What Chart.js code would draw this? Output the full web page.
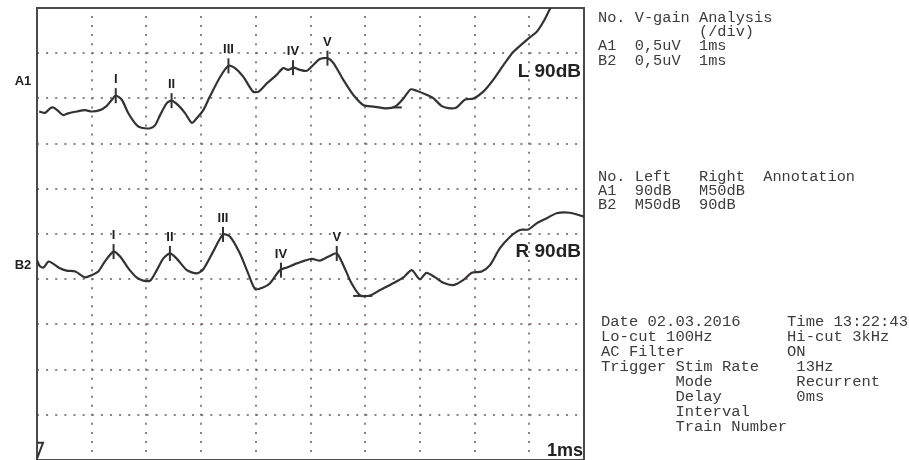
<!DOCTYPE html>
<html>
<head>
<meta charset="utf-8">
<script src="https://cdn.jsdelivr.net/npm/chart.js@4.4.1/dist/chart.umd.min.js"></script>
<style>
    body { margin: 0; background: #fff; }
    #wrap { position: relative; width: 909px; height: 460px; overflow: hidden; }
    #abrChart { position: absolute; left: 0; top: 0; }
    .info {
        position: absolute;
        margin: 0;
        font-family: "Liberation Mono", "DejaVu Sans Mono", monospace;
        color: #3c3c3c;
        white-space: pre;
    }
    #gainBlock { left: 598px; top: 11px; font-size: 15.3px; line-height: 14.2px; }
    #levelBlock { left: 598px; top: 170px; font-size: 15.3px; line-height: 14px; }
    #setupBlock { left: 601px; top: 315px; font-size: 15.5px; line-height: 14.93px; }
</style>
</head>
<body>
<div id="wrap">
    <canvas id="abrChart" width="909" height="460"></canvas>
<pre class="info" id="gainBlock">No. V-gain Analysis
           (/div)
A1  0,5uV  1ms
B2  0,5uV  1ms</pre>
<pre class="info" id="levelBlock">No. Left   Right  Annotation
A1  90dB   M50dB
B2  M50dB  90dB</pre>
<pre class="info" id="setupBlock">Date 02.03.2016     Time 13:22:43
Lo-cut 100Hz        Hi-cut 3kHz
AC Filter           ON
Trigger Stim Rate    13Hz
        Mode         Recurrent
        Delay        0ms
        Interval
        Train Number</pre>
</div>
<script>
// time in ms (1 ms / div), amplitude in divisions (0.5 uV / div)
const a1Time = [0.04, 0.15, 0.24, 0.30, 0.38, 0.48, 0.57, 0.73, 0.88, 1.00, 1.15, 1.27, 1.37, 1.44, 1.55, 1.67, 1.82, 1.91, 2.07, 2.16, 2.25, 2.37, 2.46, 2.58, 2.71, 2.83, 2.92, 3.04, 3.16, 3.35, 3.50, 3.62, 3.77, 3.95, 4.05, 4.20, 4.38, 4.50, 4.59, 4.69, 4.81, 4.93, 5.05, 5.17, 5.31, 5.42, 5.60, 5.78, 5.97, 6.15, 6.39, 6.55, 6.70, 6.83, 6.94, 7.12, 7.25, 7.40, 7.55, 7.67, 7.82, 7.98, 8.16, 8.34, 8.53, 8.71, 8.95, 9.14, 9.26, 9.37, 9.39];
const a1Amp = [7.71, 7.68, 7.78, 7.80, 7.73, 7.63, 7.67, 7.71, 7.74, 7.71, 7.74, 7.83, 7.97, 8.06, 7.97, 7.67, 7.41, 7.35, 7.34, 7.41, 7.63, 7.89, 7.95, 7.85, 7.67, 7.46, 7.56, 7.74, 8.04, 8.48, 8.72, 8.67, 8.48, 8.15, 8.15, 8.33, 8.52, 8.67, 8.63, 8.68, 8.63, 8.61, 8.74, 8.87, 8.89, 8.78, 8.41, 8.08, 7.85, 7.82, 7.78, 7.82, 8.00, 8.20, 8.17, 8.08, 8.00, 7.83, 7.78, 7.80, 7.97, 8.00, 8.15, 8.41, 8.74, 9.03, 9.29, 9.48, 9.70, 9.96, 10.0];

const b2Time = [0.00, 0.05, 0.12, 0.21, 0.30, 0.42, 0.54, 0.70, 0.88, 1.00, 1.12, 1.24, 1.40, 1.52, 1.67, 1.82, 1.94, 2.07, 2.19, 2.31, 2.43, 2.55, 2.74, 2.92, 3.04, 3.22, 3.40, 3.53, 3.71, 3.86, 3.99, 4.14, 4.26, 4.44, 4.57, 4.75, 5.02, 5.17, 5.33, 5.48, 5.60, 5.75, 5.91, 6.09, 6.27, 6.51, 6.70, 6.85, 7.00, 7.12, 7.28, 7.43, 7.61, 7.79, 7.95, 8.13, 8.28, 8.46, 8.65, 8.83, 8.98, 9.14, 9.32, 9.50, 9.74, 9.96, 10.0];
const b2Amp = [4.42, 4.29, 4.26, 4.39, 4.34, 4.24, 4.19, 4.17, 4.04, 4.09, 4.17, 4.39, 4.61, 4.50, 4.24, 4.04, 3.97, 3.97, 4.20, 4.46, 4.57, 4.46, 4.20, 4.13, 4.22, 4.61, 4.99, 4.94, 4.57, 4.13, 3.78, 3.82, 3.91, 4.20, 4.26, 4.35, 4.45, 4.41, 4.50, 4.57, 4.31, 3.91, 3.64, 3.64, 3.76, 3.91, 4.04, 4.20, 4.00, 4.14, 4.04, 3.92, 3.87, 3.98, 4.14, 4.17, 4.31, 4.68, 4.94, 5.09, 5.10, 5.24, 5.35, 5.46, 5.47, 5.40, 5.38];

const peakLabels = ['I', 'II', 'III', 'IV', 'V'];
const a1PeakTime = [1.44, 2.46, 3.50, 4.68, 5.31];
const a1PeakAmp = [8.06, 7.95, 8.72, 8.68, 8.89];
const b2PeakTime = [1.40, 2.43, 3.40, 4.46, 5.48];
const b2PeakAmp = [4.61, 4.57, 4.99, 4.20, 4.57];

const a1TroughTime = [6.51, 6.67];
const a1TroughAmp = [7.80, 7.80];
const b2TroughTime = [5.78, 6.13];
const b2TroughAmp = [3.63, 3.63];

const triggerTime = [0.0, 0.11, 0.0];
const triggerAmp = [0.38, 0.38, 0.03];

const channelNames = ['A1', 'B2'];
const channelLevel = [8.38, 4.31];
const stimulusLabels = ['L 90dB', 'R 90dB'];
const stimulusLevel = [8.58, 4.60];
const sweepLabel = '1ms';

const INK = '#333';
const DOTS = 'rgba(120, 105, 112, 0.85)';
const FRAME = '#4a4a4a';

function toPoints(xs, ys) {
    return xs.map((x, i) => ({ x: x, y: ys[i] }));
}

function dotColor(context) {
    if (context.index === 0 || context.index === 10) return 'rgba(0,0,0,0)';
    return DOTS;
}

function waveDataset(xs, ys) {
    return {
        data: toPoints(xs, ys),
        borderColor: INK,
        borderWidth: 2.2,
        pointRadius: 0,
        tension: 0.25
    };
}

function peakDataset(xs, ys) {
    return {
        data: toPoints(xs, ys),
        showLine: false,
        pointStyle: 'line',
        rotation: 90,
        pointRadius: 7.5,
        pointBorderWidth: 2,
        pointBorderColor: INK,
        borderColor: INK,
        labels: peakLabels
    };
}

function markDataset(xs, ys) {
    return {
        data: toPoints(xs, ys),
        borderColor: INK,
        borderWidth: 2,
        pointRadius: 0,
        tension: 0
    };
}

const labelPlugin = {
    id: 'abrLabels',
    afterDatasetsDraw(chart) {
        const { ctx, chartArea, scales } = chart;
        ctx.save();
        ctx.fillStyle = '#222';
        ctx.textBaseline = 'middle';

        // peak numerals above the peak ticks
        ctx.textAlign = 'center';
        ctx.font = 'bold 13px "Liberation Sans", Arial, sans-serif';
        chart.data.datasets.forEach((ds, i) => {
            if (!ds.labels) return;
            chart.getDatasetMeta(i).data.forEach((pt, j) => {
                ctx.fillText(ds.labels[j], pt.x, pt.y - 16);
            });
        });

        // channel names on the left
        channelNames.forEach((name, i) => {
            ctx.fillText(name, chartArea.left - 14, scales.y.getPixelForValue(channelLevel[i]));
        });

        // stimulus level on the right inside the frame
        ctx.textAlign = 'right';
        ctx.font = 'bold 19px "Liberation Sans", Arial, sans-serif';
        stimulusLabels.forEach((txt, i) => {
            ctx.fillText(txt, chartArea.right - 3, scales.y.getPixelForValue(stimulusLevel[i]));
        });

        ctx.font = 'bold 18px "Liberation Sans", Arial, sans-serif';
        ctx.fillText(sweepLabel, chartArea.right - 1, chartArea.bottom - 9);
        ctx.restore();
    }
};

const ctx = document.getElementById('abrChart').getContext('2d');
new Chart(ctx, {
    type: 'line',
    data: {
        datasets: [
            waveDataset(a1Time, a1Amp),
            waveDataset(b2Time, b2Amp),
            peakDataset(a1PeakTime, a1PeakAmp),
            peakDataset(b2PeakTime, b2PeakAmp),
            markDataset(a1TroughTime, a1TroughAmp),
            markDataset(b2TroughTime, b2TroughAmp),
            markDataset(triggerTime, triggerAmp)
        ]
    },
    options: {
        responsive: false,
        animation: false,
        layout: { autoPadding: false, padding: { left: 37, right: 325, top: 8, bottom: 0 } },
        plugins: {
            legend: { display: false },
            tooltip: { enabled: false }
        },
        scales: {
            x: {
                type: 'linear',
                min: 0,
                max: 10,
                position: 'bottom',
                ticks: { display: false, stepSize: 1 },
                grid: { color: dotColor, lineWidth: 2, drawTicks: false },
                border: { display: true, color: FRAME, width: 2, dash: [2, 7.04], dashOffset: 1 }
            },
            y: {
                type: 'linear',
                min: 0,
                max: 10,
                position: 'left',
                ticks: { display: false, stepSize: 1 },
                grid: { color: dotColor, lineWidth: 2, drawTicks: false },
                border: { display: true, color: FRAME, width: 2, dash: [2, 7.12], dashOffset: 1 }
            },
            xTop: {
                type: 'linear',
                min: 0,
                max: 10,
                position: 'top',
                ticks: { display: false },
                grid: { display: false, drawTicks: false },
                border: { display: true, color: FRAME, width: 2 }
            },
            yRight: {
                type: 'linear',
                min: 0,
                max: 10,
                position: 'right',
                ticks: { display: false },
                grid: { display: false, drawTicks: false },
                border: { display: true, color: FRAME, width: 2 }
            }
        }
    },
    plugins: [labelPlugin]
});
</script>
</body>
</html>
